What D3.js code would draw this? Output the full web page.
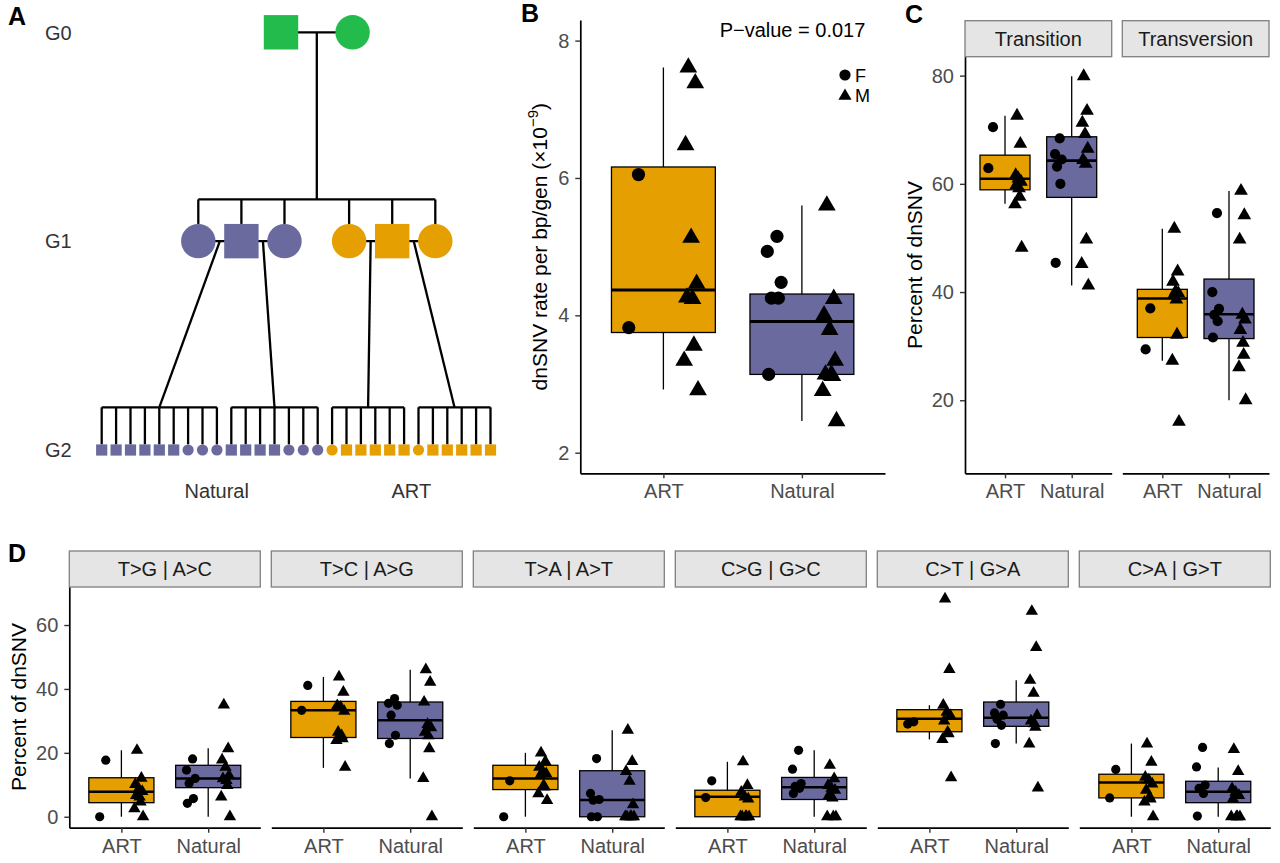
<!DOCTYPE html>
<html>
<head>
<meta charset="utf-8">
<script src="https://cdn.jsdelivr.net/npm/d3@7"></script>
<style>
  body { margin: 0; background: #fff; }
  svg { display: block; }
</style>
</head>
<body>
<script>

// ---- data ----
var groups = ["ART", "Natural"];
var groupColors = ["#E69F00", "#6A6A9F"];

// A: pedigree
var genLabels = ["G0", "G1", "G2"];
var g1Sex = ["F", "M", "F", "F", "M", "F"];
var g1Group = ["Natural", "Natural", "Natural", "ART", "ART", "ART"];
var g2Families = [
  ["M", "M", "M", "M", "M", "M", "F", "F", "F"],
  ["M", "M", "M", "M", "F", "F", "F"],
  ["F", "M", "M", "M", "M", "M"],
  ["F", "M", "M", "M", "M", "M"]
];
var g2FamilyGroup = ["Natural", "Natural", "ART", "ART"];
var g2Parents = [[0, 1], [1, 2], [3, 4], [4, 5]];

// B: dnSNV rate per bp/gen (x1e-9), [ART, Natural]
var rateF = [[6.05, 3.82], [5.15, 4.93, 4.48, 4.25, 4.25, 3.14]];
var rateM = [[7.61, 7.38, 6.48, 5.13, 4.46, 4.26, 4.24, 3.56, 3.34, 2.91],
             [5.60, 4.24, 4.00, 3.79, 3.34, 3.14, 3.13, 3.12, 2.90, 2.46]];
// box stats: [lower whisker, q1, median, q3, upper whisker]
var rateBox = [[2.92, 3.75, 4.37, 6.16, 7.61], [2.46, 3.14, 3.91, 4.31, 5.60]];
var rateTicks = [2, 4, 6, 8];

// C: transition / transversion
var typeNames = ["Transition", "Transversion"];
var typeF = [
  [[70.5, 62.9], [68.4, 65.5, 64.5, 63.2, 60.0, 45.4]],
  [[37.0, 29.4], [54.6, 40.0, 36.9, 35.8, 34.6, 31.6]]
];
var typeM = [
  [[72.6, 67.4, 61.6, 61.0, 60.4, 59.8, 59.2, 57.6, 56.2, 48.2],
   [79.9, 73.5, 71.3, 69.2, 66.5, 64.4, 63.7, 49.7, 45.2, 41.2]],
  [[51.7, 43.8, 41.9, 40.1, 39.8, 39.4, 38.6, 32.1, 27.3, 16.0],
   [58.7, 54.2, 49.7, 35.8, 34.9, 33.0, 30.6, 28.4, 26.1, 20.0]]
];
var typeBox = [
  [[56.3, 58.9, 60.95, 65.3, 72.6], [41.2, 57.5, 64.3, 68.7, 79.9]],
  [[27.3, 31.6, 38.8, 40.5, 51.7], [20.0, 31.4, 35.9, 42.4, 58.7]]
];
var typeTicks = [20, 40, 60, 80];

// D: six substitution classes
var subNames = ["T>G | A>C", "T>C | A>G", "T>A | A>T", "C>G | G>C", "C>T | G>A", "C>A | G>T"];
var subF = [
  [[17.7, 0], [18.1, 14.6, 12.0, 10.4, 5.7, 4.2]],
  [[41.1, 33.3], [37.0, 35.5, 34.9, 31.8, 25.5, 22.9]],
  [[11.25, 0], [18.2, 7.3, 5.4, 5.2, 0, 0]],
  [[11.25, 6.0], [20.8, 14.9, 10.4, 9.5, 8.9, 7.3]],
  [[29.7, 29.0], [35.2, 32.5, 31.8, 30.5, 28.6, 22.9]],
  [[14.8, 5.9], [21.7, 15.6, 9.9, 8.9, 7.3, 0.2]]
];
var subM = [
  [[20.8, 12.1, 10.1, 8.8, 7.9, 6.7, 6.2, 4.6, 2.5, 0],
   [35.0, 21.3, 17.8, 15.5, 12.9, 11.9, 11.4, 9.8, 6.2, 0]],
  [[43.75, 39.0, 34.8, 34.3, 33.0, 26.5, 25.4, 24.4, 23.9, 15.5],
   [46.0, 42.1, 35.9, 28.9, 27.9, 26.5, 25.4, 21.3, 12.0, 0]],
  [[20.0, 17.3, 15.5, 14.2, 13.5, 12.9, 9.8, 9.3, 7.2, 5.1],
   [27.1, 17.3, 14.2, 11.1, 3.8, 0, 0, 0, 0, 0]],
  [[17.2, 9.8, 7.7, 6.2, 5.6, 0, 0, 0, 0, 0],
   [16.1, 11.9, 9.8, 8.9, 8.3, 6.7, 5.9, 0, 0, 0]],
  [[68.2, 46.1, 34.9, 32.7, 31.7, 30.0, 26.5, 26.0, 24.2, 12.2],
   [64.3, 53.0, 42.7, 38.7, 31.7, 30.0, 29.1, 28.0, 22.8, 9.0]],
  [[22.8, 17.1, 12.4, 11.5, 10.3, 8.3, 6.2, 5.6, 4.6, 0],
   [21.1, 14.2, 8.8, 7.7, 6.7, 5.6, 0, 0, 0, 0]]
];
var subBox = [
  [[0, 4.4, 7.8, 12.2, 20.8], [0, 9.1, 12.0, 16.1, 21.4]],
  [[15.3, 24.8, 33.3, 36.1, 43.75], [12.0, 24.5, 30.2, 35.9, 46.0]],
  [[0, 8.5, 12.0, 16.1, 20.0], [0, 0, 5.2, 14.4, 27.1]],
  [[0, 0, 6.25, 8.3, 17.2], [0, 5.4, 9.2, 12.3, 20.8]],
  [[24.2, 26.6, 30.7, 33.5, 34.9], [22.9, 28.3, 31.0, 35.9, 42.7]],
  [[0, 5.9, 10.7, 13.3, 22.9], [0, 4.4, 7.8, 11.1, 15.4]]
];
var subTicks = [0, 20, 40, 60];

// ---- drawing ----
var font = '"Liberation Sans", Arial, Helvetica, sans-serif';
var jitter = [0.02, -0.05, 0.05, -0.02, 0.03, -0.04, 0.0, 0.04, -0.03, 0.01];

var svg = d3.select("body").append("svg")
            .attr("width", 1280)
            .attr("height", 863)
            .style("font-family", font);

function panelLabel(x, y, t) {
  svg.append("text").attr("x", x).attr("y", y)
     .attr("font-size", 25).attr("font-weight", "bold").attr("fill", "#000").text(t);
}

function colorOf(grp) { return groupColors[groups.indexOf(grp)]; }

function boxplot(g, xs, y, boxes, ptsF, ptsM, r, medW) {
  var step = xs.step(), hw = step * 0.375;
  var triSize = Math.pow(2.69 * r, 2) * Math.sqrt(3) / 4;
  groups.forEach(function (grp, gi) {
    var cx = xs(grp), b = boxes[gi];
    g.append("line").attr("x1", cx).attr("x2", cx)
     .attr("y1", y(b[4])).attr("y2", y(b[0]))
     .attr("stroke", "#000").attr("stroke-width", 1.3);
    g.append("rect").attr("x", cx - hw).attr("width", hw * 2)
     .attr("y", y(b[3])).attr("height", Math.max(0, y(b[1]) - y(b[3])))
     .attr("fill", groupColors[gi]).attr("stroke", "#000").attr("stroke-width", 1.3);
    g.append("line").attr("x1", cx - hw).attr("x2", cx + hw)
     .attr("y1", y(b[2])).attr("y2", y(b[2]))
     .attr("stroke", "#000").attr("stroke-width", medW);
  });
  groups.forEach(function (grp, gi) {
    var cx = xs(grp);
    g.selectAll(null).data(ptsF[gi]).enter().append("circle")
     .attr("cx", function (d, i) { return cx + (-0.2 + jitter[i % jitter.length]) * step; })
     .attr("cy", function (d) { return y(d); })
     .attr("r", r).attr("fill", "#000");
    g.selectAll(null).data(ptsM[gi]).enter().append("path")
     .attr("d", d3.symbol(d3.symbolTriangle, triSize))
     .attr("transform", function (d, i) {
       return "translate(" + (cx + (0.2 + jitter[(i + 3) % jitter.length]) * step) + "," + y(d) + ")";
     })
     .attr("fill", "#000");
  });
}

function styleAxis(ax) {
  ax.attr("font-family", font).attr("font-size", 20);
  ax.select(".domain").attr("stroke", "#000").attr("stroke-width", 1.7);
  ax.selectAll(".tick line").attr("stroke", "#333").attr("stroke-width", 1.4);
  ax.selectAll(".tick text").attr("fill", "#4D4D4D");
}

function yAxis(x, y, ticks) {
  var ax = svg.append("g").attr("transform", "translate(" + x + ",0)")
              .call(d3.axisLeft(y).tickValues(ticks).tickFormat(d3.format("d"))
                      .tickSize(5).tickSizeOuter(0).tickPadding(6));
  styleAxis(ax);
}

function xAxis(yPos, xs) {
  var ax = svg.append("g").attr("transform", "translate(0," + yPos + ")")
              .call(d3.axisBottom(xs).tickSize(5).tickSizeOuter(0).tickPadding(6));
  styleAxis(ax);
}

function yTitle(x, yc, t) {
  return svg.append("text").attr("transform", "translate(" + x + "," + yc + ") rotate(-90)")
            .attr("text-anchor", "middle").attr("font-size", 21).attr("fill", "#000").text(t);
}

function strip(x0, w, y0, h, label) {
  svg.append("rect").attr("x", x0).attr("y", y0).attr("width", w).attr("height", h)
     .attr("fill", "#E5E5E5").attr("stroke", "#7F7F7F").attr("stroke-width", 1.3);
  svg.append("text").attr("x", x0 + w / 2).attr("y", y0 + h / 2).attr("dy", "0.36em")
     .attr("text-anchor", "middle").attr("font-size", 20).attr("fill", "#1A1A1A").text(label);
}

// ---- A: pedigree ----
(function () {
  var lw = 2.3, big = 17.2, small = 5.6;
  var gy = d3.scalePoint().domain(genLabels).range([32.3, 450]);
  var x1 = d3.scaleLinear().domain([0, 5.5]).range([198.3, 435.3]);
  var nKids = d3.sum(g2Families, function (f) { return f.length; });
  var x2 = d3.scalePoint().domain(d3.range(nKids)).range([101.7, 490.5]);
  var g = svg.append("g").attr("stroke", "#000").attr("stroke-width", lw);

  function person(sex, cx, cy, rad, fill) {
    if (sex === "M") {
      svg.append("rect").attr("x", cx - rad).attr("y", cy - rad)
         .attr("width", rad * 2).attr("height", rad * 2).attr("fill", fill);
    } else {
      svg.append("circle").attr("cx", cx).attr("cy", cy).attr("r", rad).attr("fill", fill);
    }
  }

  var g1x = g1Sex.map(function (d, i) { return x1(i + (i >= 3 ? 0.5 : 0)); });
  var y0 = gy("G0"), y1 = gy("G1"), y2 = gy("G2");
  var sib1 = y1 - 41.7, sib2 = y2 - 42.7;
  var mid0 = (g1x[0] + g1x[5]) / 2;

  // G0 couple
  g.append("line").attr("x1", mid0 - 36).attr("x2", mid0 + 36).attr("y1", y0).attr("y2", y0);
  g.append("line").attr("x1", mid0).attr("x2", mid0).attr("y1", y0).attr("y2", sib1);
  person("M", mid0 - 35.8, y0, big, "#22BB4C");
  person("F", mid0 + 35.8, y0, big, "#22BB4C");

  // G1 sibship
  g.append("line").attr("x1", g1x[0]).attr("x2", g1x[5]).attr("y1", sib1).attr("y2", sib1);
  g1x.forEach(function (x) {
    g.append("line").attr("x1", x).attr("x2", x).attr("y1", sib1).attr("y2", y1 - big);
  });

  // G2 families
  var k = 0;
  g2Families.forEach(function (fam, fi) {
    var xs = fam.map(function (d, j) { return x2(k + j); });
    var pa = g2Parents[fi];
    var coupleX = (g1x[pa[0]] + g1x[pa[1]]) / 2;
    var sibMid = (xs[0] + xs[xs.length - 1]) / 2;
    g.append("line").attr("x1", g1x[pa[0]]).attr("x2", g1x[pa[1]]).attr("y1", y1).attr("y2", y1);
    g.append("line").attr("x1", coupleX).attr("x2", sibMid).attr("y1", y1).attr("y2", sib2);
    g.append("line").attr("x1", xs[0]).attr("x2", xs[xs.length - 1]).attr("y1", sib2).attr("y2", sib2);
    xs.forEach(function (x) {
      g.append("line").attr("x1", x).attr("x2", x).attr("y1", sib2).attr("y2", y2 - small);
    });
    k += fam.length;
  });

  g1Sex.forEach(function (s, i) { person(s, g1x[i], y1, big, colorOf(g1Group[i])); });
  k = 0;
  g2Families.forEach(function (fam, fi) {
    fam.forEach(function (s, j) { person(s, x2(k + j), y2, small, colorOf(g2FamilyGroup[fi])); });
    k += fam.length;
  });

  genLabels.forEach(function (t) {
    svg.append("text").attr("x", 45).attr("y", gy(t)).attr("dy", "0.36em")
       .attr("font-size", 20).attr("fill", "#333").text(t);
  });

  // group labels under the G2 row
  ["Natural", "ART"].forEach(function (grp) {
    var idx = [];
    g2Families.forEach(function (fam, fi) {
      var start = g2Families.slice(0, fi).reduce(function (a, f) { return a + f.length; }, 0);
      if (g2FamilyGroup[fi] === grp) fam.forEach(function (d, j) { idx.push(start + j); });
    });
    var cx = (x2(d3.min(idx)) + x2(d3.max(idx))) / 2;
    svg.append("text").attr("x", cx + (grp === "Natural" ? 7 : 0)).attr("y", 498)
       .attr("text-anchor", "middle").attr("font-size", 20).attr("fill", "#333").text(grp);
  });
  panelLabel(8, 25, "A");
})();

// ---- B: rate ----
(function () {
  var y = d3.scaleLinear().domain([1.7, 8.3]).range([473.3, 20]);
  var xs = d3.scalePoint().domain(groups).range([580.3, 885]).padding(0.6);
  boxplot(svg.append("g"), xs, y, rateBox, rateF, rateM, 6.6, 3);
  yAxis(580.3, y, rateTicks);
  xAxis(473.3, xs);
  var t = yTitle(547, 246.7, "dnSNV rate per bp/gen (×10");
  t.append("tspan").attr("dy", -9).attr("font-size", 15).text("−9");
  t.append("tspan").attr("dy", 9).text(")");
  svg.append("text").attr("x", 792.5).attr("y", 37.3).attr("text-anchor", "middle")
     .attr("font-size", 20).attr("fill", "#000").text("P−value = 0.017");
  // legend
  svg.append("circle").attr("cx", 845).attr("cy", 75).attr("r", 5.6).attr("fill", "#000");
  svg.append("path").attr("d", d3.symbol(d3.symbolTriangle, 75))
     .attr("transform", "translate(845,96)").attr("fill", "#000");
  svg.append("text").attr("x", 855).attr("y", 81.7).attr("font-size", 18).attr("fill", "#000").text("F");
  svg.append("text").attr("x", 855).attr("y", 102.3).attr("font-size", 18).attr("fill", "#000").text("M");
  panelLabel(521, 22, "B");
})();

// ---- C: transition / transversion ----
(function () {
  var y = d3.scaleLinear().domain([6.5, 83.5]).range([473.3, 56.7]);
  var fx = d3.scaleBand().domain(typeNames).range([965, 1269]).paddingInner(0.0674);
  typeNames.forEach(function (name, fi) {
    var x0 = fx(name), w = fx.bandwidth();
    var xs = d3.scalePoint().domain(groups).range([x0, x0 + w]).padding(0.6);
    strip(x0, w, 20.7, 36, name);
    boxplot(svg.append("g"), xs, y, typeBox[fi], typeF[fi], typeM[fi], 5.1, 2.6);
    xAxis(473.3, xs);
  });
  yAxis(965, y, typeTicks);
  yTitle(922, 265, "Percent of dnSNV");
  panelLabel(905, 23, "C");
})();

// ---- D: substitution classes ----
(function () {
  var y = d3.scaleLinear().domain([-3.43, 71.9]).range([827.7, 587]);
  var fx = d3.scaleBand().domain(subNames).range([69.3, 1270.3]).paddingInner(0.0545);
  subNames.forEach(function (name, fi) {
    var x0 = fx(name), w = fx.bandwidth();
    var xs = d3.scalePoint().domain(groups).range([x0, x0 + w]).padding(0.6);
    strip(x0, w, 551, 36, name);
    boxplot(svg.append("g"), xs, y, subBox[fi], subF[fi], subM[fi], 4.6, 2.5);
    xAxis(827.7, xs);
  });
  yAxis(69.3, y, subTicks);
  yTitle(26, 707, "Percent of dnSNV");
  panelLabel(8, 562, "D");
})();

</script>
</body>
</html>
